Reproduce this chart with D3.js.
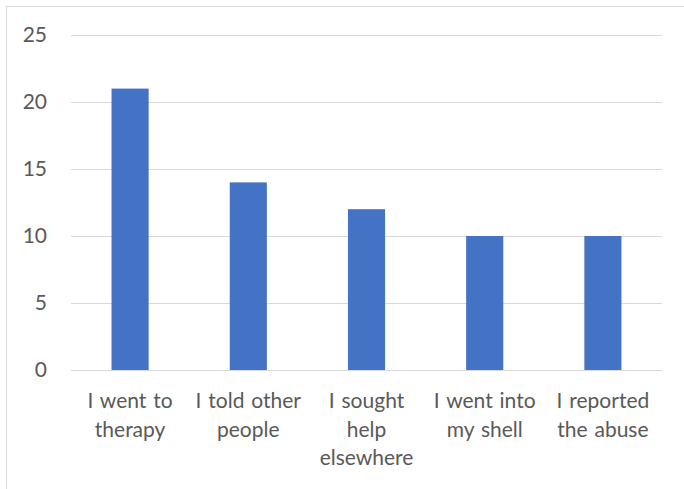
<!DOCTYPE html>
<html>
<head>
<meta charset="utf-8">
<script src="https://cdn.jsdelivr.net/npm/d3@7/dist/d3.min.js"></script>
<style>
  html, body { margin: 0; padding: 0; background: #fff; }
  svg { display: block; }
  text { font-family: Lato, "Open Sans", sans-serif; fill: #595959; }
</style>
</head>
<body>
<svg id="chart" width="684" height="489"></svg>
<script>
const categories = [
  ["I went to", "therapy"],
  ["I told other", "people"],
  ["I sought", "help", "elsewhere"],
  ["I went into", "my shell"],
  ["I reported", "the abuse"]
];
const values = [21, 14, 12, 10, 10];
const yTicks = [0, 5, 10, 15, 20, 25];

const svg = d3.select("#chart");
const W = 684, H = 489;

// outer frame
svg.append("rect")
  .attr("x", 6.5).attr("y", 6.5)
  .attr("width", W).attr("height", H)
  .attr("fill", "none").attr("stroke", "#d9d9d9").attr("stroke-width", 1);

const plot = { left: 71, right: 662, top: 35, bottom: 370 };

const x = d3.scaleBand()
  .domain(d3.range(categories.length))
  .range([plot.left, plot.right])
  .paddingInner(0.686).paddingOuter(0.343);

const y = d3.scaleLinear().domain([0, 25]).range([plot.bottom, plot.top]);

// gridlines
svg.append("g").selectAll("line").data(yTicks).join("line")
  .attr("x1", plot.left).attr("x2", plot.right)
  .attr("y1", d => Math.round(y(d)) + 0.5).attr("y2", d => Math.round(y(d)) + 0.5)
  .attr("stroke", "#d9d9d9").attr("stroke-width", 1);

// y axis labels
const yAxis = d3.axisLeft(y).tickValues(yTicks).tickSize(0).tickPadding(0);
svg.append("g")
  .attr("transform", `translate(${plot.left - 24},0)`)
  .call(yAxis)
  .call(g => g.select(".domain").remove())
  .call(g => g.selectAll("text")
    .attr("font-size", 21)
    .style("font-family", "Lato, 'Open Sans', sans-serif")
    .attr("fill", "#595959"));

// bars
svg.append("g").selectAll("rect").data(values).join("rect")
  .attr("x", (d, i) => x(i))
  .attr("width", x.bandwidth())
  .attr("y", d => y(d))
  .attr("height", d => y(0) - y(d))
  .attr("fill", "#4472c4");

// baseline
svg.append("line")
  .attr("x1", plot.left).attr("x2", plot.right)
  .attr("y1", plot.bottom + 0.5).attr("y2", plot.bottom + 0.5)
  .attr("stroke", "#d9d9d9").attr("stroke-width", 1);

// category labels
const lab = svg.append("g").selectAll("text").data(categories).join("text")
  .attr("text-anchor", "middle")
  .attr("font-size", 21)
  .attr("word-spacing", 1.5)
  .attr("x", (d, i) => x(i) + x.bandwidth() / 2)
  .attr("y", 408);
lab.selectAll("tspan").data(d => d).join("tspan")
  .attr("x", function() { return d3.select(this.parentNode).attr("x"); })
  .attr("dy", (d, i) => i === 0 ? 0 : 28.7)
  .text(d => d);
</script>
</body>
</html>
